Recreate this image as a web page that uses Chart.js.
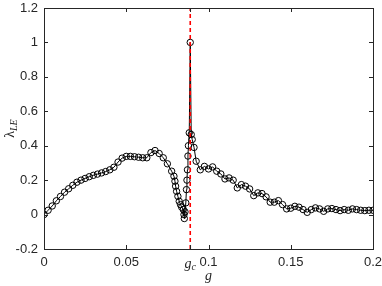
<!DOCTYPE html>
<html>
<head>
<meta charset="utf-8">
<script src="https://cdn.jsdelivr.net/npm/chart.js@4.4.0/dist/chart.umd.min.js"></script>
<style>
  html, body { margin: 0; padding: 0; background: #fff; }
  #wrap { width: 382px; height: 286px; }
</style>
</head>
<body>
<div id="wrap"><canvas id="lyapChart" width="382" height="286"></canvas></div>
<script>
// ── Data ──────────────────────────────────────────────────
const G_C = 0.0889;

const gValues = [
  0, 0.0025, 0.005, 0.0075, 0.01, 0.0125, 0.015, 0.0175, 0.02, 0.0225,
  0.025, 0.0275, 0.03, 0.0325, 0.035, 0.0375, 0.04, 0.0425, 0.045, 0.0475,
  0.05, 0.0525, 0.055, 0.0575, 0.06, 0.0625, 0.065, 0.0675, 0.07, 0.0725,
  0.075, 0.0776, 0.079, 0.0796, 0.08, 0.0806, 0.0814, 0.0822, 0.083, 0.0837,
  0.0847, 0.0851, 0.0853, 0.0857, 0.0862, 0.0866, 0.0869, 0.0872, 0.0875, 0.0878,
  0.0883, 0.0889, 0.0895, 0.0901, 0.0912, 0.0925, 0.095, 0.0975, 0.1, 0.1025,
  0.105, 0.1075, 0.11, 0.1125, 0.115, 0.1175, 0.12, 0.1225, 0.125, 0.1275,
  0.13, 0.1325, 0.135, 0.1375, 0.14, 0.1425, 0.145, 0.1475, 0.15, 0.1525,
  0.155, 0.1575, 0.16, 0.1625, 0.165, 0.1675, 0.17, 0.1725, 0.175, 0.1775,
  0.18, 0.1825, 0.185, 0.1875, 0.19, 0.1925, 0.195, 0.1975, 0.2
];

const lambdaValues = [
  0, 0.025, 0.05, 0.08, 0.105, 0.13, 0.15, 0.17, 0.188, 0.2,
  0.21, 0.22, 0.228, 0.235, 0.242, 0.25, 0.26, 0.275, 0.305, 0.328,
  0.338, 0.338, 0.336, 0.333, 0.33, 0.33, 0.36, 0.372, 0.355, 0.33,
  0.295, 0.252, 0.223, 0.194, 0.165, 0.135, 0.106, 0.077, 0.058, 0.043,
  0.029, 0.0, -0.023, 0.016, 0.068, 0.145, 0.2, 0.26, 0.34, 0.40,
  0.475, 1.0, 0.465, 0.436, 0.39, 0.31, 0.26, 0.28, 0.265, 0.277,
  0.252, 0.236, 0.207, 0.213, 0.2, 0.155, 0.174, 0.165, 0.149, 0.11,
  0.126, 0.122, 0.103, 0.072, 0.072, 0.081, 0.058, 0.033, 0.037, 0.048,
  0.043, 0.029, 0.013, 0.029, 0.039, 0.033, 0.019, 0.033, 0.035, 0.029,
  0.023, 0.029, 0.025, 0.033, 0.029, 0.025, 0.023, 0.025, 0.025
];

const xTickValues = [0, 0.05, G_C, 0.1, 0.15, 0.2];
const xTickLabels = ["0", "0.05", "", "0.1", "0.15", "0.2"];
const yTickValues = [-0.2, 0, 0.2, 0.4, 0.6, 0.8, 1, 1.2];
const yTickLabels = ["-0.2", "0", "0.2", "0.4", "0.6", "0.8", "1", "1.2"];

const AXIS_COLOR = "#262626";
const TICK_FONT = { family: "'Liberation Sans', Arial, sans-serif", size: 13 };

// ── Helpers ───────────────────────────────────────────────
const points = gValues.map((g, i) => ({ x: g, y: lambdaValues[i] }));

// box, inward ticks, g_c label and axis titles (MATLAB look)
const matlabAxes = {
  id: "matlabAxes",
  afterDraw(chart) {
    const { ctx, chartArea: a, scales } = chart;
    const xs = scales.x, ys = scales.y;
    const tl = 4;
    ctx.save();
    ctx.strokeStyle = AXIS_COLOR;
    ctx.lineWidth = 1;
    ctx.strokeRect(Math.round(a.left) + 0.5, Math.round(a.top) + 0.5,
                   Math.round(a.right - a.left), Math.round(a.bottom - a.top));
    ctx.beginPath();
    xTickValues.forEach(v => {
      const px = Math.round(xs.getPixelForValue(v)) + 0.5;
      ctx.moveTo(px, a.bottom); ctx.lineTo(px, a.bottom - tl);
      ctx.moveTo(px, a.top);    ctx.lineTo(px, a.top + tl);
    });
    yTickValues.forEach(v => {
      const py = Math.round(ys.getPixelForValue(v)) + 0.5;
      ctx.moveTo(a.left, py);  ctx.lineTo(a.left + tl, py);
      ctx.moveTo(a.right, py); ctx.lineTo(a.right - tl, py);
    });
    ctx.stroke();

    // g_c tick label
    ctx.fillStyle = AXIS_COLOR;
    ctx.textBaseline = "alphabetic";
    const gx = xs.getPixelForValue(G_C);
    const baseY = a.bottom + 19;
    ctx.font = "italic 14px 'Liberation Serif', serif";
    const gw = ctx.measureText("g").width;
    ctx.font = "italic 10px 'Liberation Serif', serif";
    const cw = ctx.measureText("c").width;
    let sx = gx - (gw + cw) / 2;
    ctx.font = "italic 14px 'Liberation Serif', serif";
    ctx.fillText("g", sx, baseY);
    ctx.font = "italic 10px 'Liberation Serif', serif";
    ctx.fillText("c", sx + gw, baseY + 2);

    // x title
    ctx.font = "italic 14px 'Liberation Serif', serif";
    ctx.textAlign = "center";
    ctx.fillText("g", (a.left + a.right) / 2, a.bottom + 31);

    // y title λ_LE (rotated)
    ctx.translate(14, (a.top + a.bottom) / 2);
    ctx.rotate(-Math.PI / 2);
    ctx.textAlign = "left";
    ctx.font = "14px 'Liberation Serif', serif";
    const lw = ctx.measureText("λ").width;
    ctx.font = "italic 10px 'Liberation Serif', serif";
    const sw = ctx.measureText("LE").width;
    const x0 = -(lw + sw) / 2;
    ctx.font = "14px 'Liberation Serif', serif";
    ctx.fillText("λ", x0, 0);
    ctx.font = "italic 10px 'Liberation Serif', serif";
    ctx.fillText("LE", x0 + lw, 3);
    ctx.restore();
  }
};

// ── Chart ─────────────────────────────────────────────────
const ctx = document.getElementById("lyapChart").getContext("2d");

new Chart(ctx, {
  type: "scatter",
  data: {
    datasets: [
      {
        label: "g_c",
        data: [{ x: G_C, y: -0.2 }, { x: G_C, y: 1.2 }],
        showLine: true,
        borderColor: "#ff0000",
        borderWidth: 1.6,
        borderDash: [4, 3],
        pointRadius: 0,
        order: 0
      },
      {
        label: "lambda_LE",
        data: points,
        showLine: true,
        borderColor: "#000",
        borderWidth: 1,
        pointRadius: 3.2,
        pointBorderWidth: 1,
        pointBorderColor: "#000",
        pointBackgroundColor: "transparent",
        tension: 0,
        order: 1
      }
    ]
  },
  options: {
    responsive: false,
    animation: false,
    devicePixelRatio: 1,
    layout: { padding: { top: 8, right: 9, left: 0, bottom: 0 } },
    plugins: { legend: { display: false }, tooltip: { enabled: false } },
    scales: {
      x: {
        type: "linear",
        min: 0,
        max: 0.2,
        afterBuildTicks: s => { s.ticks = xTickValues.map(v => ({ value: v })); },
        afterFit: s => { s.height = 37; s.paddingLeft = 0; s.paddingRight = 0; },
        grid: { display: false, drawTicks: false },
        border: { display: false },
        ticks: {
          color: AXIS_COLOR,
          font: TICK_FONT,
          padding: 6,
          maxRotation: 0,
          autoSkip: false,
          callback: (v, i) => xTickLabels[i]
        }
      },
      y: {
        type: "linear",
        min: -0.2,
        max: 1.2,
        afterBuildTicks: s => { s.ticks = yTickValues.map(v => ({ value: v })); },
        afterFit: s => { s.width = 44; s.paddingTop = 0; s.paddingBottom = 0; },
        grid: { display: false, drawTicks: false },
        border: { display: false },
        ticks: {
          color: AXIS_COLOR,
          font: TICK_FONT,
          padding: 6,
          autoSkip: false,
          callback: (v, i) => yTickLabels[i]
        }
      }
    }
  },
  plugins: [matlabAxes]
});
</script>
</body>
</html>
